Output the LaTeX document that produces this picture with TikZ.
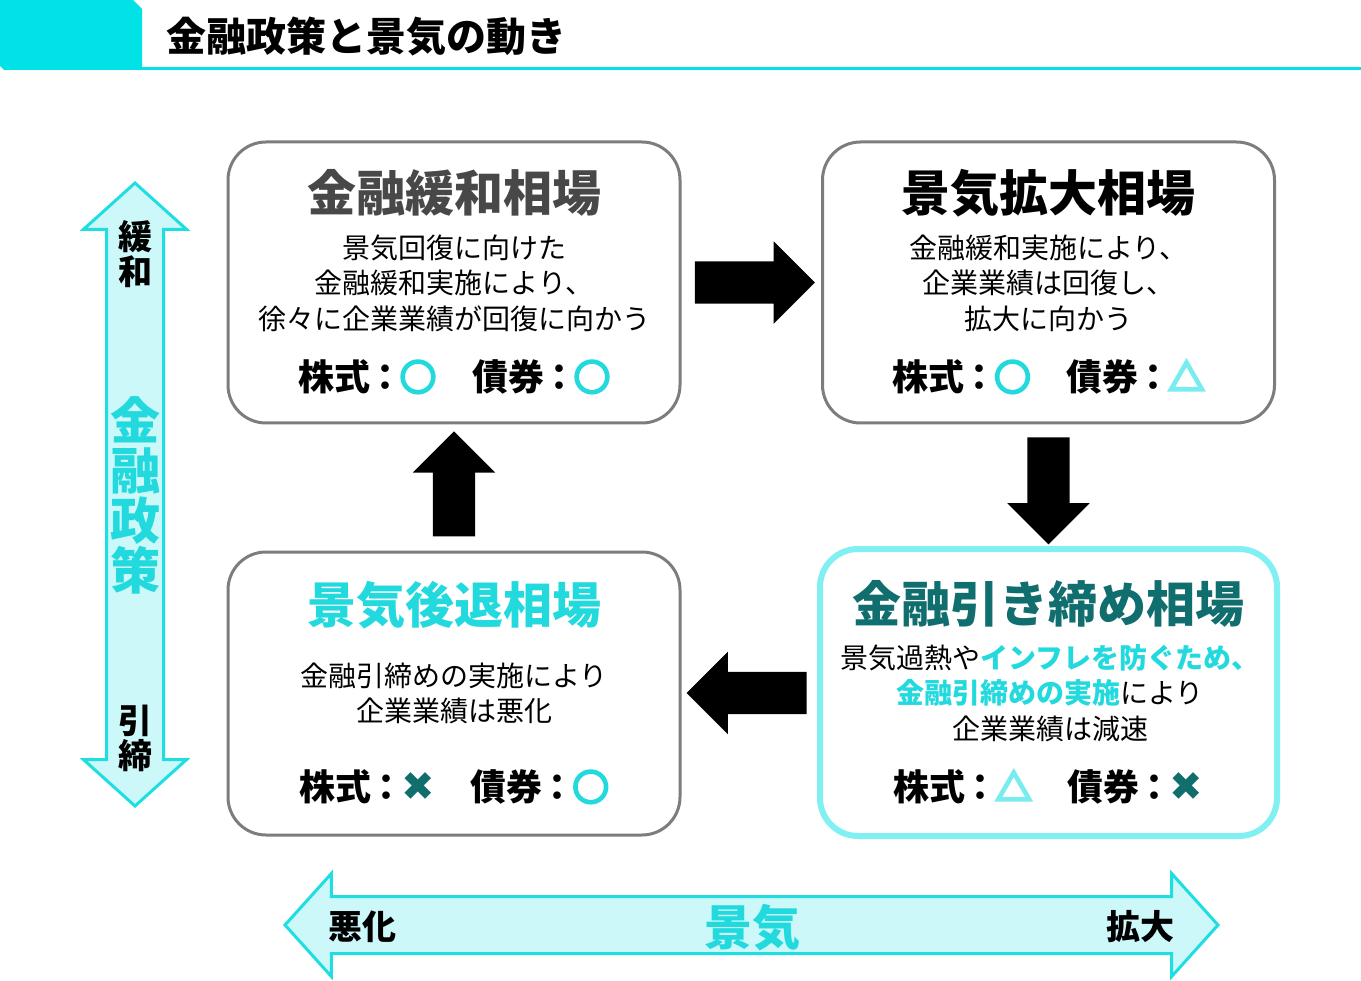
\documentclass[tikz,border=0pt]{standalone}
\usepackage{fontspec}
\setmainfont{Noto Sans CJK JP}
\newfontfamily\symfont{DejaVu Sans}
\newfontfamily\markfont[FakeBold=8]{Noto Sans CJK JP}
\usetikzlibrary{shapes.arrows,calc}

\definecolor{hdcyan}{RGB}{0,226,230}
\definecolor{mkcyan}{RGB}{34,218,222}
\definecolor{axisfill}{RGB}{204,248,250}
\definecolor{axisline}{RGB}{30,222,226}
\definecolor{hotline}{RGB}{128,240,242}
\definecolor{teal}{RGB}{16,110,110}
\definecolor{tricyan}{RGB}{120,236,238}
\definecolor{boxgray}{RGB}{125,125,125}
\definecolor{headgray}{RGB}{72,72,72}

\newcommand{\good}{{\markfont\color{mkcyan}○}}
\newcommand{\fair}{{\markfont\color{tricyan}△}}
\newcommand{\bad}{{\symfont\fontsize{40}{36}\selectfont\color{teal}✖}}
\newcommand{\sep}{\kern-3pt：\kern-3pt}

\tikzset{
  phase/.style={draw=boxgray, line width=3pt, rounded corners=38pt, fill=white,
    minimum width=452pt, minimum height=281pt},
  phasetitle/.style={font=\bfseries\fontsize{49}{49}\selectfont},
  phasebody/.style={font=\fontsize{28}{35.5}\selectfont, align=center},
  rating/.style={font=\bfseries\fontsize{36}{36}\selectfont},
  fatarrow/.style={single arrow, fill=black, inner sep=21pt,
    single arrow head extend=20pt, minimum height=120pt},
  axis/.style={double arrow, fill=axisfill, draw=axisline, line width=3pt,
    inner sep=27pt, double arrow head extend=23pt, double arrow tip angle=96},
  axisend/.style={font=\bfseries\fontsize{34}{35}\selectfont, align=center},
  axisname/.style={text=mkcyan, font=\bfseries\fontsize{50}{50}\selectfont, align=center}
}

\begin{document}
\begin{tikzpicture}[x=1pt,y=1pt,yscale=-1]
\useasboundingbox (0,0) rectangle (1361,981);

% header
\fill[hdcyan] (0,0) -- (133,0) -- (142,9) -- (142,70) -- (4,70) -- (0,66) -- cycle;
\draw[hdcyan, line width=3pt] (142,69) -- (1361,69);
\node[anchor=west, font=\bfseries\fontsize{40}{40}\selectfont] (title) at (163,37) {金融政策と景気の動き};

% axes
\node[axis, minimum height=623pt, rotate=90] (policy) at (135,494.5) {};
\node[axis, minimum height=933pt] (economy) at (751.5,925) {};
\node[axisend] (ease) at (135,254) {緩\\和};
\node[axisend] (tight) at (135,738) {引\\締};
\node[axisname] (policyname) at (135,495) {金\\融\\政\\策};
\node[axisend] (worse) at (362,927) {悪化};
\node[axisend] (better) at (1140,927) {拡大};
\node[axisname, font=\bfseries\fontsize{48}{48}\selectfont] (economyname) at (752,928) {景気};

% phases
\node[phase] (tl) at (454,282.5) {};
\node[phase] (tr) at (1048.5,282.5) {};
\node[phase, minimum height=283pt] (bl) at (454,693.5) {};
\node[phase, draw=hotline, line width=6pt, minimum width=457pt, minimum height=287pt] (br) at (1048.5,692.5) {};

% 金融緩和相場
\node[phasetitle, text=headgray] (tlhead) at (454,193) {金融緩和相場};
\node[phasebody] (tlbody) at (454,283) {景気回復に向けた\\金融緩和実施により、\\徐々に企業業績が回復に向かう};
\node[rating] (tlrate) at (454,377) {株式\sep\good\quad 債券\sep\good};

% 景気拡大相場
\node[phasetitle] (trhead) at (1048.5,193) {景気拡大相場};
\node[phasebody] (trbody) at (1048.5,283) {金融緩和実施により、\\企業業績は回復し、\\拡大に向かう};
\node[rating] (trrate) at (1048.5,377) {株式\sep\good\quad 債券\sep\fair};

% 金融引き締め相場
\node[phasetitle, text=teal] (brhead) at (1048.5,604) {金融引き締め相場};
\node[phasebody] (brbody) at (1050,693) {景気過熱や{\bfseries\color{mkcyan}インフレを防ぐため、}\\{\bfseries\color{mkcyan}金融引締めの実施}により\\企業業績は減速};
\node[rating] (brrate) at (1048.5,787) {株式\sep\fair\quad 債券\sep\bad};

% 景気後退相場
\node[phasetitle, text=mkcyan] (blhead) at (454,605) {景気後退相場};
\node[phasebody] (blbody) at (454,693.5) {金融引締めの実施により\\企業業績は悪化};
\node[rating] (blrate) at (454,787) {株式\sep\bad\quad 債券\sep\good};

% cycle
\node[fatarrow] (a1) at ($(tl.east)!0.5!(tr.west)+(-7,0)$) {};
\node[fatarrow, minimum height=107pt, rotate=-90] (a2) at ($(tr.south)!0.5!(br.north)+(0,-5)$) {};
\node[fatarrow, rotate=180] (a3) at ($(br.west)!0.5!(bl.east)+(8,0)$) {};
\node[fatarrow, minimum height=105pt, rotate=90] (a4) at ($(bl.north)!0.5!(tl.south)+(0,7)$) {};

\end{tikzpicture}
\end{document}
